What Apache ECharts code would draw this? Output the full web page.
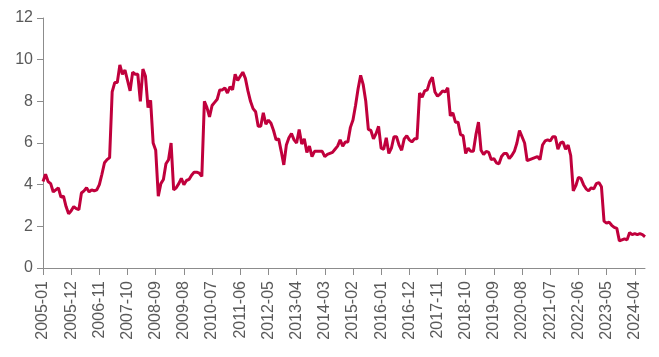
<!DOCTYPE html>
<html>
<head>
<meta charset="utf-8">
<script src="https://cdn.jsdelivr.net/npm/echarts@6/dist/echarts.min.js"></script>
<style>html,body{margin:0;padding:0;background:#fff}#c{width:659px;height:357px}</style>
</head>
<body>
<div id="c"></div>
<script>
var startYear = 2005, startMonth = 1, monthCount = 236;
var categories = [];
for (var i = 0; i < monthCount; i++) {
  var y = startYear + Math.floor((startMonth - 1 + i) / 12);
  var m = (startMonth - 1 + i) % 12 + 1;
  categories.push(y + '-' + (m < 10 ? '0' + m : m));
}
var values = [
  4.15,4.5,4.15,4.05,3.65,3.75,3.85,3.4,3.45,2.95,2.6,2.75,
  2.95,2.85,2.8,3.6,3.7,3.85,3.65,3.75,3.7,3.75,4.0,4.5,
  5.05,5.2,5.3,8.45,8.9,8.9,9.75,9.3,9.5,9.0,8.5,9.4,
  9.3,9.3,8.0,9.55,9.2,7.7,8.05,6.0,5.65,3.45,4.05,4.25,
  5.0,5.2,6.0,3.75,3.85,4.05,4.3,4.0,4.2,4.25,4.45,4.6,
  4.6,4.55,4.4,8.0,7.7,7.25,7.8,7.95,8.1,8.55,8.55,8.65,
  8.4,8.7,8.55,9.3,9.0,9.2,9.4,9.1,8.5,8.0,7.65,7.5,
  6.8,6.8,7.45,6.9,7.1,6.95,6.6,6.15,6.2,5.6,4.95,5.9,
  6.25,6.45,6.15,6.0,6.65,5.95,6.2,5.55,5.85,5.35,5.6,5.6,
  5.6,5.6,5.35,5.45,5.5,5.55,5.7,5.85,6.15,5.85,6.05,6.05,
  6.75,7.1,7.8,8.6,9.25,8.8,8.0,6.65,6.6,6.2,6.45,6.8,
  5.75,5.7,6.25,5.5,5.75,6.3,6.3,5.9,5.65,6.2,6.35,6.15,
  6.05,6.2,6.2,8.4,8.2,8.5,8.55,8.95,9.15,8.45,8.25,8.35,
  8.5,8.45,8.65,7.3,7.45,7.0,7.0,6.4,6.35,5.5,5.75,5.6,
  5.6,6.4,7.0,5.65,5.45,5.6,5.55,5.2,5.25,5.05,5.0,5.35,
  5.5,5.5,5.25,5.4,5.6,6.0,6.6,6.3,6.0,5.15,5.2,5.25,
  5.3,5.35,5.2,5.9,6.1,6.15,6.1,6.3,6.3,5.7,6.0,6.05,
  5.7,5.9,5.4,3.7,3.95,4.35,4.3,4.0,3.8,3.7,3.85,3.8,
  4.05,4.1,3.9,2.25,2.15,2.2,2.05,1.95,1.9,1.3,1.35,1.4,
  1.35,1.7,1.6,1.65,1.6,1.65,1.6,1.5
];
var yTicks = [0, 2, 4, 6, 8, 10, 12];

var chart = echarts.init(document.getElementById('c'));
chart.setOption({
  animation: false,
  textStyle: { fontFamily: 'Liberation Sans, Arial, sans-serif' },
  grid: { left: 43, right: 14, top: 18, bottom: 89, containLabel: false },
  xAxis: {
    type: 'category',
    data: categories,
    boundaryGap: false,
    axisLine: { lineStyle: { color: '#8c8c8c', width: 1 } },
    axisTick: { show: true, interval: 10, length: 7, lineStyle: { color: '#8c8c8c' } },
    axisLabel: { interval: 10, rotate: 90, color: '#595959', fontSize: 16, margin: 13 },
    splitLine: { show: false }
  },
  yAxis: {
    type: 'value',
    min: yTicks[0],
    max: yTicks[yTicks.length - 1],
    interval: 2,
    axisLine: { show: true, lineStyle: { color: '#8c8c8c', width: 1 } },
    axisTick: { show: true, length: 6, lineStyle: { color: '#8c8c8c' } },
    axisLabel: { color: '#595959', fontSize: 16, margin: 10 },
    splitLine: { show: false }
  },
  series: [{
    type: 'line',
    data: values,
    showSymbol: false,
    lineStyle: { color: '#c0003c', width: 3 },
    itemStyle: { color: '#c0003c' }
  }]
});
</script>
</body>
</html>
